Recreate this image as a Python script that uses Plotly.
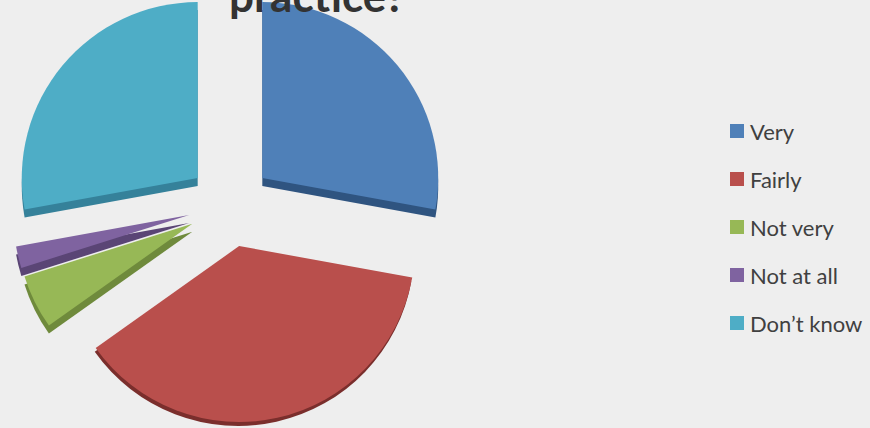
import plotly.graph_objects as go

categories = ["Very", "Fairly", "Not very", "Not at all", "Don’t know"]
values = [28, 37.5, 5, 2, 28]
colors = ["#4F80B8", "#B94F4C", "#97B856", "#7F63A0", "#4EADC6"]
side_colors = ["#2F5480", "#7A2E2C", "#6F8A3C", "#5A4575", "#35819A"]
title_text = "practice?"

W, H = 870, 428
TOP = 13  # part of the figure scrolled above the window, where the clipped title sits
FH = H + TOP + 5
BG = "#EEEEEE"
BOX = 436
DROP = 8
x_dom = [12 / W, (12 + BOX) / W]

fig = go.Figure()
fig.add_trace(go.Pie(
    labels=categories, values=values, sort=False, direction="clockwise", rotation=0,
    pull=[0.239, 0.215, 0.239, 0.239, 0.239], textinfo="none", hoverinfo="skip",
    marker=dict(colors=side_colors, line=dict(width=0)),
    domain=dict(x=x_dom, y=[1 - (BOX + DROP) / FH, 1 - DROP / FH]), showlegend=False,
))
fig.add_trace(go.Pie(
    labels=categories, values=values, sort=False, direction="clockwise", rotation=0,
    pull=[0.239] * 5, textinfo="none",
    marker=dict(colors=colors, line=dict(width=0)),
    domain=dict(x=x_dom, y=[1 - BOX / FH, 1]), showlegend=False,
))

legend_y = [131, 179, 227, 275, 323]
shapes, annotations = [], []
for name, col, ly in zip(categories, colors, legend_y):
    shapes.append(dict(type="rect", xref="paper", yref="paper",
                       x0=730 / W, x1=744 / W,
                       y0=1 - (ly + TOP + 7) / FH, y1=1 - (ly + TOP - 7) / FH,
                       fillcolor=col, line=dict(width=0)))
    annotations.append(dict(text=name, xref="paper", yref="paper", x=748 / W, y=1 - (ly + TOP) / FH,
                            xanchor="left", yanchor="middle", showarrow=False,
                            font=dict(family="Lato", size=22, color="#404040")))
annotations.append(dict(text=f"<b>{title_text}</b>", xref="paper", yref="paper", x=317 / W,
                        y=1 - (TOP - 5) / FH,
                        xanchor="center", yanchor="middle", showarrow=False,
                        font=dict(family="Lato", size=44, color="#333333")))

fig.update_layout(width=W, height=FH, margin=dict(l=0, r=0, t=0, b=0),
                  paper_bgcolor=BG, plot_bgcolor=BG, showlegend=False,
                  shapes=shapes, annotations=annotations)
fig.write_html("out.html", config=dict(displayModeBar=False),
               post_script=f"document.documentElement.style.overflow='hidden';"
                           f"document.body.style.margin='-{TOP}px 0 0 0';")
